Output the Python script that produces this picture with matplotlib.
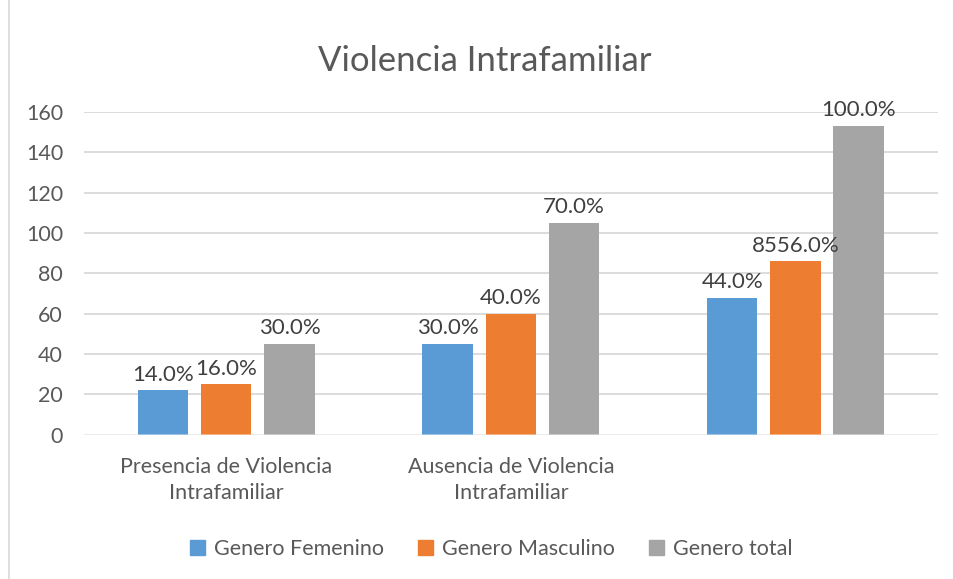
import matplotlib.pyplot as plt
import numpy as np
from matplotlib.lines import Line2D

plt.rcParams['font.family'] = ['Lato', 'DejaVu Sans']

# data
categories = ['Presencia de Violencia\nIntrafamiliar', 'Ausencia de Violencia\nIntrafamiliar', '']
series_names = ['Genero Femenino', 'Genero Masculino', 'Genero total']
femenino = [22, 45, 68]
masculino = [25, 60, 86]
total = [45, 105, 153]
lab_femenino = ['14.0%', '30.0%', '44.0%']
lab_masculino = ['16.0%', '40.0%', '8556.0%']
lab_total = ['30.0%', '70.0%', '100.0%']

colors = ['#5B9BD5', '#ED7D31', '#A5A5A5']
text_color = '#595959'
grid_color = '#D9D9D9'

fig = plt.figure(figsize=(9.54, 5.79), dpi=100)
ax = fig.add_axes([0.088, 0.249, 0.895, 0.558])

x = np.arange(len(categories))
width = 0.177
step = 0.222
all_vals = [femenino, masculino, total]
all_labs = [lab_femenino, lab_masculino, lab_total]

for i, (vals, labs) in enumerate(zip(all_vals, all_labs)):
    bars = ax.bar(x + (i - 1) * step, vals, width, color=colors[i],
                  label=series_names[i], zorder=2)
    ax.bar_label(bars, labels=labs, padding=4, fontsize=16, color='#404040')

ax.set_ylim(0, 160)
ax.set_xlim(-0.5, 2.5)
ax.set_yticks(range(0, 161, 20))
ax.yaxis.grid(True, color=grid_color, linewidth=1.3, zorder=0)
ax.axhline(0, color='white', alpha=0.45, linewidth=2, zorder=3)
ax.set_axisbelow(True)
for s in ax.spines.values():
    s.set_visible(False)
ax.tick_params(axis='both', length=0, colors=text_color, labelsize=15.5)
ax.tick_params(axis='y', pad=15)
ax.set_xticks(x)
ax.set_xticklabels(categories, fontsize=15.5, color=text_color, linespacing=1.4)
ax.tick_params(axis='x', pad=16)

fig.text(0.508, 0.895, 'Violencia Intrafamiliar', ha='center', va='center',
         fontsize=25, color=text_color)

handles = [plt.Rectangle((0, 0), 1, 1, color=c) for c in colors]
fig.legend(handles, series_names, loc='center', bbox_to_anchor=(0.515, 0.052),
           ncol=3, frameon=False, fontsize=15.5, labelcolor=text_color,
           handlelength=0.7, handleheight=0.7, handletextpad=0.4, columnspacing=1.6)

fig.add_artist(Line2D([0.009, 0.009], [0, 1], color=grid_color, linewidth=1.2))

fig.savefig('out.png', dpi=100)
